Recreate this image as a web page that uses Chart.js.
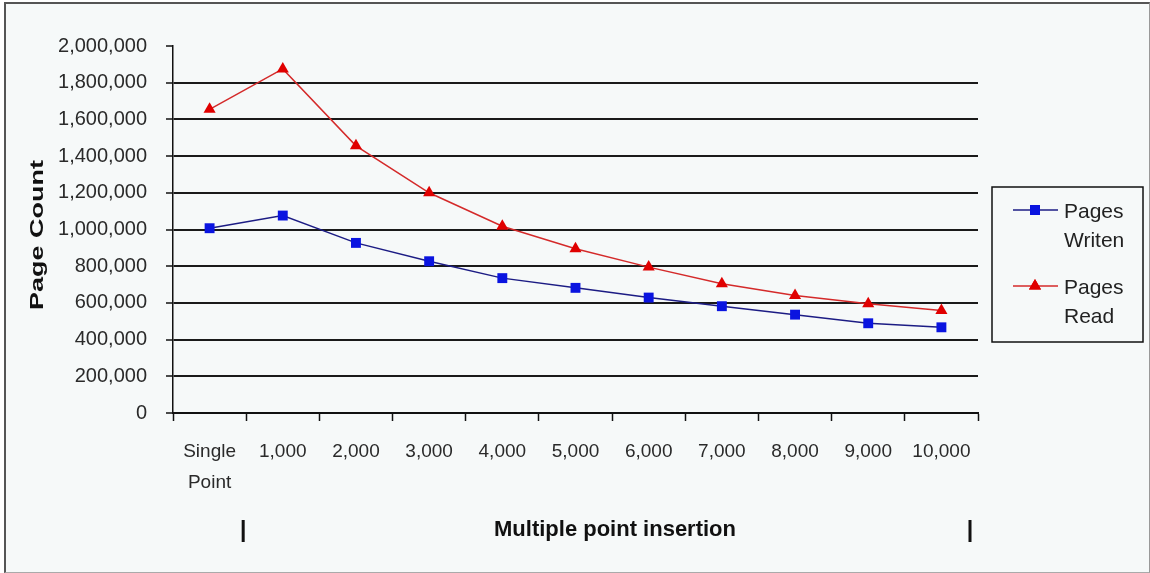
<!DOCTYPE html>
<html>
<head>
<meta charset="utf-8">
<script src="https://cdn.jsdelivr.net/npm/chart.js@4"></script>
<style>
  body { margin: 0; background: #ffffff; }
  #frame {
    position: absolute; left: 4px; top: 2px; width: 1143px; height: 568px;
    background: #f6f9f9;
    border-left: 2px solid #555; border-top: 2px solid #555;
    border-right: 1px solid #999; border-bottom: 1px solid #aaa;
  }
  #chart { position: absolute; left: 0; top: 0; }
</style>
</head>
<body>
<div id="frame"></div>
<canvas id="chart" width="1150" height="573"></canvas>
<script>
// chart data
const categories = [['Single', 'Point'], '1,000', '2,000', '3,000', '4,000', '5,000', '6,000', '7,000', '8,000', '9,000', '10,000'];
const pagesWritten = [1007000, 1076000, 927000, 827000, 735000, 682000, 629000, 582000, 536000, 489000, 467000];
const pagesRead = [1655000, 1875000, 1456000, 1200000, 1018000, 895000, 795000, 704000, 640000, 595000, 558000];
const seriesNames = [['Pages', 'Writen'], ['Pages', 'Read']];
const yTitle = 'Page Count';
const xTitle = 'Multiple point insertion';
const yMax = 2000000;
const yStep = 200000;

const regular = '"Liberation Sans", Arial, sans-serif';

const blueLine = '#1c1c84';
const blueMark = '#0a14e0';
const redLine = '#d42a2a';
const redMark = '#e00000';

// Function to draw the axis titles, the range markers and the legend box
const extras = {
    id: 'extras',
    afterDraw: (chart) => {
        const { ctx, scales: { x } } = chart;
        ctx.save();

        // y title, stretched along its length like the original
        ctx.translate(38, 235);
        ctx.rotate(-Math.PI / 2);
        ctx.scale(1.5, 1);
        ctx.font = 'bold 18px ' + regular;
        ctx.fillStyle = '#111';
        ctx.textAlign = 'center';
        ctx.textBaseline = 'middle';
        ctx.fillText(yTitle, 0, 0);
        ctx.setTransform(1, 0, 0, 1, 0, 0);

        // x title and the two range bars
        ctx.font = 'bold 22px ' + regular;
        ctx.fillStyle = '#111';
        ctx.textAlign = 'center';
        ctx.textBaseline = 'middle';
        ctx.fillText(xTitle, 615, 530);

        const step = (x.right - x.left) / categories.length;
        ctx.strokeStyle = '#111';
        ctx.lineWidth = 3;
        ctx.beginPath();
        ctx.moveTo(x.left + step - 3, 520);
        ctx.lineTo(x.left + step - 3, 542);
        ctx.moveTo(x.right - 8, 520);
        ctx.lineTo(x.right - 8, 542);
        ctx.stroke();

        // legend
        ctx.lineWidth = 1.5;
        ctx.strokeStyle = '#111';
        ctx.strokeRect(992, 187, 151, 155);

        const entries = [
            { y: 210, line: blueLine, mark: blueMark, style: 'rect', names: seriesNames[0] },
            { y: 286, line: redLine, mark: redMark, style: 'triangle', names: seriesNames[1] },
        ];
        entries.forEach(e => {
            ctx.strokeStyle = e.line;
            ctx.lineWidth = 1.5;
            ctx.beginPath();
            ctx.moveTo(1013, e.y);
            ctx.lineTo(1058, e.y);
            ctx.stroke();
            ctx.fillStyle = e.mark;
            Chart.helpers.drawPoint(ctx, { pointStyle: e.style, radius: 7, borderWidth: 0 }, 1035, e.y);
            ctx.fill();
            ctx.font = '21px ' + regular;
            ctx.fillStyle = '#222';
            ctx.textAlign = 'left';
            ctx.textBaseline = 'alphabetic';
            ctx.fillText(e.names[0], 1064, e.y + 8);
            ctx.fillText(e.names[1], 1064, e.y + 37);
        });

        ctx.restore();
    }
};

const chart = new Chart(document.getElementById('chart').getContext('2d'), {
    type: 'line',
    data: {
        labels: categories,
        datasets: [
            {
                label: 'Pages Writen',
                data: pagesWritten,
                borderColor: blueLine,
                borderWidth: 1.5,
                backgroundColor: blueMark,
                pointStyle: 'rect',
                pointRadius: 7,
                pointBorderWidth: 0,
                tension: 0,
            },
            {
                label: 'Pages Read',
                data: pagesRead,
                borderColor: redLine,
                borderWidth: 1.5,
                backgroundColor: redMark,
                pointStyle: 'triangle',
                pointRadius: 7,
                pointBorderWidth: 0,
                tension: 0,
            },
        ],
    },
    options: {
        responsive: false,
        animation: false,
        layout: { padding: { left: 0, top: 46, right: 172, bottom: 0 } },
        plugins: {
            legend: { display: false },
            tooltip: { enabled: false },
        },
        scales: {
            x: {
                offset: true,
                grid: {
                    offset: true,
                    drawOnChartArea: false,
                    drawTicks: true,
                    tickLength: 8,
                    tickColor: '#111',
                    tickWidth: 1.5,
                },
                border: { display: true, color: '#111', width: 2 },
                ticks: {
                    color: '#2a2a2a',
                    font: { family: regular, size: 19, lineHeight: 1.65 },
                    padding: 15,
                    maxRotation: 0,
                    autoSkip: false,
                },
                afterFit: (scale) => { scale.height = 160; },
            },
            y: {
                min: 0,
                max: yMax,
                grid: {
                    color: (c) => (c.index === 0 || c.index === 10) ? 'rgba(0,0,0,0)' : '#1a1a1a',
                    lineWidth: 2,
                    drawTicks: true,
                    tickLength: 7,
                    tickColor: '#111',
                    tickWidth: 1.5,
                },
                border: { display: true, color: '#111', width: 1.5 },
                ticks: {
                    stepSize: yStep,
                    color: '#2a2a2a',
                    font: { family: regular, size: 20 },
                    padding: 19,
                    callback: (v) => v.toLocaleString('en-US'),
                },
                afterFit: (scale) => { scale.width = 173; },
            },
        },
    },
    plugins: [extras],
});
</script>
</body>
</html>
